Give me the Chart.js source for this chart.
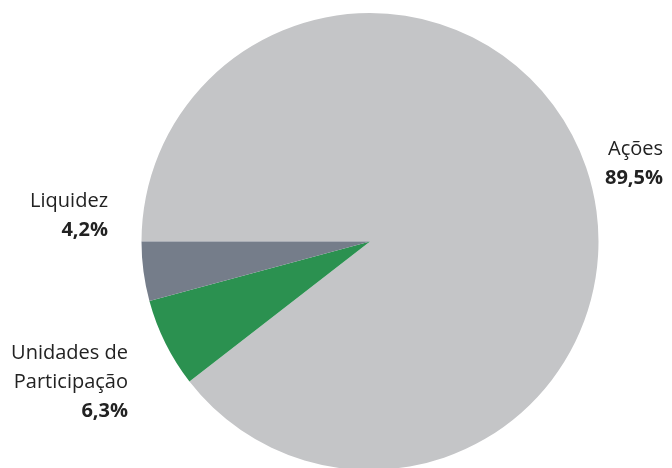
<!DOCTYPE html>
<html>
<head>
<meta charset="utf-8">
<script src="https://cdn.jsdelivr.net/npm/chart.js@4/dist/chart.umd.min.js"></script>
<style>
    html, body { margin: 0; padding: 0; background: #fff; overflow: hidden; }
    #wrap { width: 672px; height: 468px; overflow: hidden; }
</style>
</head>
<body>
<div id="wrap"><canvas id="pieChart" width="672" height="470"></canvas></div>
<script>
const categories = ['Ações', 'Unidades de Participação', 'Liquidez'];
const shares = [89.5, 6.3, 4.2];
const valueLabels = ['89,5%', '6,3%', '4,2%'];
const sliceColors = ['#c4c5c7', '#2b9150', '#757d8a'];

// label text lines, right aligned, placed next to each slice
const labelLines = [
    { name: ['Ações'], x: 663, y: 155 },
    { name: ['Unidades de', 'Participação'], x: 128, y: 359 },
    { name: ['Liquidez'], x: 108, y: 207 }
];

const labelPlugin = {
    id: 'sliceLabels',
    afterDraw(chart) {
        const ctx = chart.ctx;
        ctx.save();
        ctx.fillStyle = '#222';
        ctx.textAlign = 'right';
        ctx.textBaseline = 'alphabetic';
        labelLines.forEach((lbl, i) => {
            let y = lbl.y;
            ctx.font = '20px "Open Sans"';
            lbl.name.forEach(line => {
                ctx.fillText(line, lbl.x, y);
                y += 29;
            });
            ctx.font = 'bold 20px "Open Sans"';
            ctx.fillText(valueLabels[i], lbl.x, y);
        });
        ctx.restore();
    }
};

new Chart(document.getElementById('pieChart'), {
    type: 'pie',
    data: {
        labels: categories,
        datasets: [{
            data: shares,
            backgroundColor: sliceColors,
            borderWidth: 0
        }]
    },
    options: {
        responsive: false,
        animation: false,
        rotation: 270,
        layout: { padding: { top: 13, left: 68, right: 0, bottom: 0 } },
        plugins: {
            legend: { display: false },
            tooltip: { enabled: false }
        }
    },
    plugins: [labelPlugin]
});
</script>
</body>
</html>
